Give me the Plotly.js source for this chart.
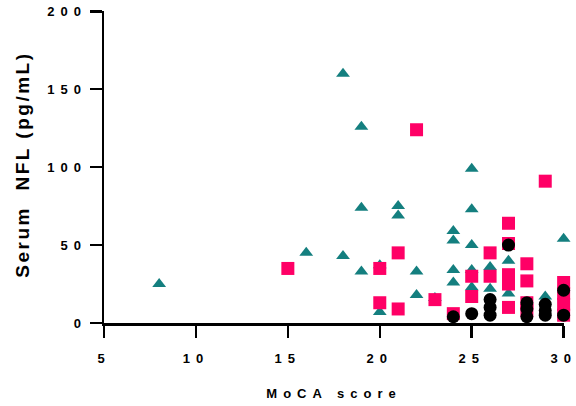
<!DOCTYPE html>
<html>
<head>
<meta charset="utf-8">
<script src="https://cdn.plot.ly/plotly-3.0.1.min.js"></script>
<style>
  html, body { margin: 0; padding: 0; background: #fff; }
  #chart { width: 576px; height: 406px; }
  .xtick text, .ytick text, .g-xtitle text { letter-spacing: 6px; }
  .annotation-text { letter-spacing: 2.5px; }
</style>
</head>
<body>
<div id="chart"></div>
<script>
// Teal triangles
const triX = [8, 16, 18, 18, 19, 19, 19, 20, 20, 21, 21, 22, 22, 23, 24, 24, 24, 24, 25, 25, 25, 25, 25, 26, 26, 27, 27, 29, 30];
const triY = [25, 45, 160, 43, 126, 74, 33, 37, 7, 75, 69, 33, 18, 16, 59, 53, 34, 26, 99, 73, 50, 34, 23, 36, 22, 40, 19, 17, 54];

// Pink squares
const sqX = [15, 20, 20, 21, 21, 22, 23, 24, 25, 25, 26, 26, 27, 27, 27, 27, 27, 28, 28, 28, 28, 29, 30, 30, 30, 30];
const sqY = [35, 35, 13, 45, 9, 124, 15, 6, 30, 17, 45, 30, 64, 51, 31, 25, 10, 38, 27, 13, 8, 91, 26, 19, 12, 5];

// Black circles
const cirX = [24, 25, 26, 26, 26, 27, 28, 28, 28, 29, 29, 29, 30, 30];
const cirY = [4, 6, 15, 10, 5, 50, 13, 9, 4, 12, 8, 5, 21, 5];

const xTickVals = [5, 10, 15, 20, 25, 30];
const xTickText = ['5', '10', '15', '20', '25', '30'];
const yTickVals = [0, 50, 100, 150, 200];
const yTickText = ['0', '50', '100', '150', '200'];

const xTitle = 'MoCA score';
const yTitle = 'Serum&nbsp;&nbsp;NFL (pg/mL)';

const FONT = 'Liberation Sans, Arial, sans-serif';

const traces = [
  { x: triX, y: triY, type: 'scatter', mode: 'markers', cliponaxis: false,
    marker: { symbol: 'triangle-up', size: 12, color: '#147f7f', line: { width: 0 } } },
  { x: sqX, y: sqY, type: 'scatter', mode: 'markers', cliponaxis: false,
    marker: { symbol: 'square', size: 13, color: '#ff0066', line: { width: 0 } } },
  { x: cirX, y: cirY, type: 'scatter', mode: 'markers', cliponaxis: false,
    marker: { symbol: 'circle', size: 13, color: '#000000', line: { width: 0 } } }
];

const layout = {
  width: 576, height: 406,
  margin: { l: 104, r: 11.6, t: 10.7, b: 83 },
  paper_bgcolor: '#fff', plot_bgcolor: '#fff',
  showlegend: false,
  font: { family: FONT, color: '#000' },
  xaxis: {
    range: [5, 30.02], autorange: false,
    tickmode: 'array', tickvals: xTickVals, ticktext: xTickText,
    ticks: 'outside', ticklen: 12, tickwidth: 2.5, tickcolor: '#000',
    ticklabelstandoff: 10, ticklabeloverflow: 'allow',
    showline: true, linewidth: 2.5, linecolor: '#000',
    showgrid: false, zeroline: false,
    tickfont: { family: FONT, size: 13, weight: 'bold', color: '#000' },
    title: { text: xTitle, standoff: 24, font: { family: FONT, size: 13, weight: 'bold', color: '#000' } }
  },
  yaxis: {
    range: [0, 200.2], autorange: false,
    tickmode: 'array', tickvals: yTickVals, ticktext: yTickText,
    ticks: 'outside', ticklen: 12, tickwidth: 2.5, tickcolor: '#000',
    ticklabelshift: 5.5, ticklabeloverflow: 'allow',
    showline: true, linewidth: 2.5, linecolor: '#000',
    showgrid: false, zeroline: false,
    tickfont: { family: FONT, size: 13, weight: 'bold', color: '#000' }
  },
  annotations: [{
    text: yTitle, textangle: -90, showarrow: false,
    xref: 'paper', yref: 'paper', x: -0.177, y: 0.506,
    xanchor: 'center', yanchor: 'middle',
    font: { family: FONT, size: 19, weight: 'bold', color: '#000' }
  }]
};

Plotly.newPlot('chart', traces, layout, { displayModeBar: false, staticPlot: true });
</script>
</body>
</html>
